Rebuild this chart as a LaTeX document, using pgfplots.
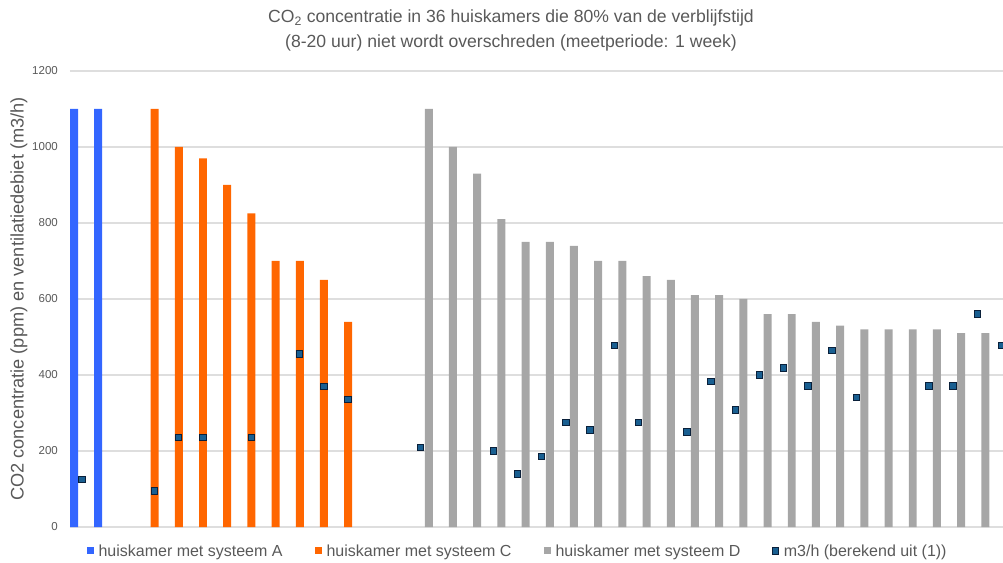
\documentclass[border=0pt]{standalone}
\usepackage{fontspec}
\setmainfont{Liberation Sans}
\usepackage{pgfplots}
\pgfplotsset{compat=1.18}
\usetikzlibrary{calc}
\definecolor{sysA}{RGB}{51,102,255}
\definecolor{sysC}{RGB}{255,102,0}
\definecolor{sysD}{RGB}{166,166,166}
\definecolor{txt}{RGB}{89,89,89}
\definecolor{gridc}{RGB}{222,222,222}
\definecolor{mfill}{RGB}{25,95,145}
\definecolor{mdraw}{RGB}{10,32,58}
\begin{document}
\begin{tikzpicture}
\begin{axis}[
  scale only axis, width=933.1pt, height=456pt,
  xmin=0.5, xmax=39.06, ymin=0, ymax=1200,
  ytick={0,200,...,1200}, xtick=\empty,
  ymajorgrids, grid style={gridc, line width=1.3pt},
  axis line style={draw=none}, major tick length=0pt,
  /pgf/number format/assume math mode=true,
  yticklabel style={font=\fontsize{11.5}{12}\selectfont, text=txt, anchor=east, inner sep=0pt, xshift=-11.9pt, /pgf/number format/1000 sep={}},
  ylabel={CO2 concentratie (ppm) en ventilatiedebiet (m3/h)},
  ylabel style={at={(axis description cs:-0.0547,0.5)}, anchor=center, font=\fontsize{18.2}{20}\selectfont, text=txt},
  bar width=0.33, clip=true,
  legend columns=4,
  legend style={at={(axis description cs:0.0144,-0.0526)}, anchor=west, draw=none, fill=none,
    font=\fontsize{16}{18}\selectfont, text=txt,
    /tikz/every odd column/.append style={column sep=3pt},
    /tikz/every even column/.append style={column sep=30pt}},
]
\addplot[ybar, bar shift=0pt, fill=sysA, draw=none,
  legend image code/.code={\fill[sysA] (0pt,-3.5pt) rectangle (7pt,3.5pt);}]
  coordinates {(0.67,1100) (1.67,1100)};
\addlegendentry{huiskamer met systeem A}
\addplot[ybar, bar shift=0pt, fill=sysC, draw=none,
  legend image code/.code={\fill[sysC] (0pt,-3.5pt) rectangle (7pt,3.5pt);}]
  coordinates {(4,1100) (5,1000) (6,970) (7,900) (8,825) (9,700) (10,700) (11,650) (12,540)};
\addlegendentry{huiskamer met systeem C}
\addplot[ybar, bar shift=0pt, fill=sysD, draw=none,
  legend image code/.code={\fill[sysD] (0pt,-3.5pt) rectangle (7pt,3.5pt);}]
  coordinates {(15.33,1100) (16.33,1000) (17.33,930) (18.33,810) (19.33,750) (20.33,750)
    (21.33,740) (22.33,700) (23.33,700) (24.33,660) (25.33,650) (26.33,610) (27.33,610)
    (28.33,600) (29.33,560) (30.33,560) (31.33,540) (32.33,530) (33.33,520) (34.33,520)
    (35.33,520) (36.33,520) (37.33,510) (38.33,510) (39.33,505)};
\addlegendentry{huiskamer met systeem D}
\addplot[only marks, mark=square*, mark size=3.2pt, mark options={fill=mfill, draw=mdraw, line width=1pt}]
  coordinates {(1,125) (4,95) (5,235) (6,235) (8,235) (10,455) (11,370) (12,335)
    (15,210) (18,200) (19,140) (20,185) (21,275) (22,255) (23,477) (24,275) (26,250)
    (27,383) (28,308) (29,400) (30,418) (31,371) (32,465) (33,340) (36,371) (37,371)
    (38,560) (39,478)};
\addlegendentry{m3/h (berekend uit (1))}
\coordinate (A) at (rel axis cs:0,0);
\coordinate (B) at (rel axis cs:1,1);
\end{axis}
\node[align=center, font=\fontsize{17.6}{25}\selectfont, text=txt] at ($(A|-B)+(441.1pt,40.5pt)$)
  {CO\textsubscript{2} concentratie in 36 huiskamers die 80\% van de verblijfstijd\\(8-20 uur) niet wordt overschreden (meetperiode: 1 week)};
\pgfresetboundingbox
\path[use as bounding box] ($(A)+(-69.9pt,-35pt)$) rectangle ($(B)+(0pt,71pt)$);
\end{tikzpicture}
\end{document}
